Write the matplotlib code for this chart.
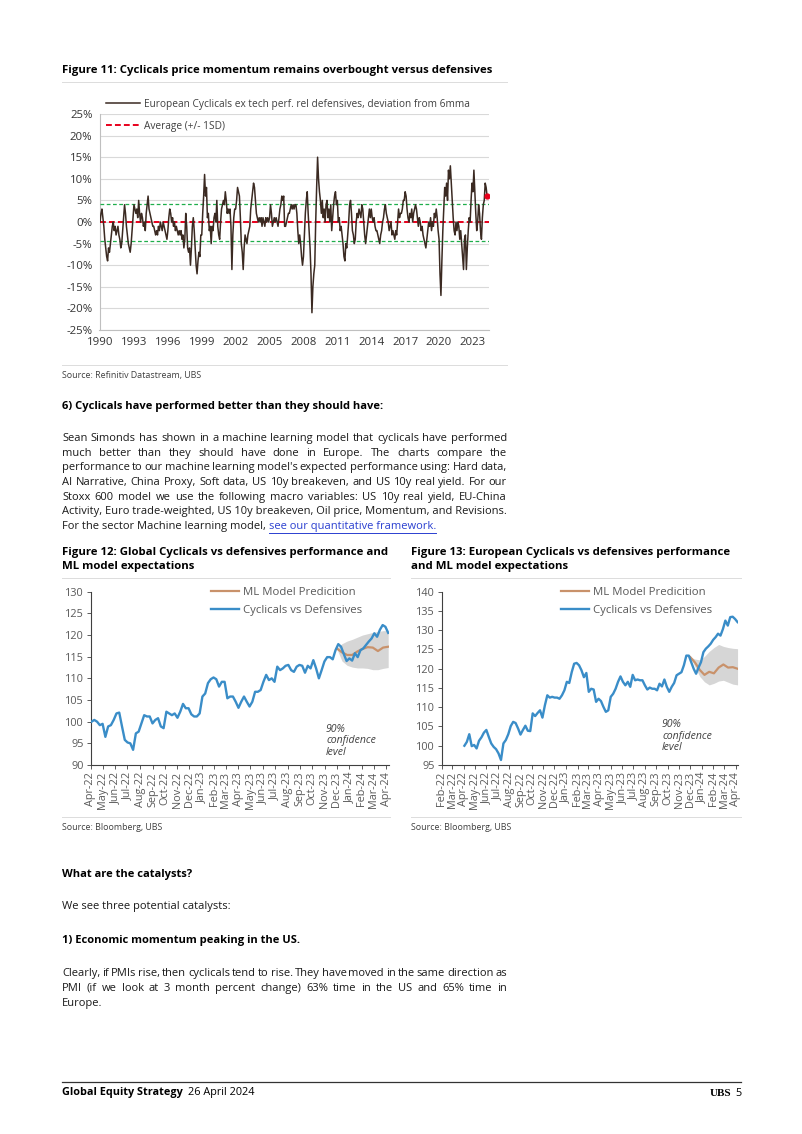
import numpy as np
import pandas as pd
import matplotlib
matplotlib.use("Agg")
import matplotlib.pyplot as plt
import matplotlib.dates as mdates
from matplotlib.lines import Line2D

W, H = 802, 1134
plt.rcParams['font.family'] = ['Open Sans', 'DejaVu Sans']

# ---- Figure 11: monthly deviation from 6mma (%), Jan 1990 - Apr 2024
momentum = [
    0, 2, 3, 1, -1, -4, -6, -8, -9, -6, -7, -5,          # 1990
    -3, -1, 0, -2, -1, -3, -2, -1, -3, -4, -6, -5,       # 1991
    -2, 1, 4, 2, -1, -3, -5, -6, -7, -5, -2, 1,          # 1992
    4, 3, 2, 3, 1, 5, 2, 0, 2, 1, -1, 0,                 # 1993
    -2, 2, 4, 6, 3, 2, 1, 0, -1, -1, -2, -3,             # 1994
    -2, -3, -1, -2, 0, -1, -2, 0, -1, -2, -3, -4,        # 1995
    -2, 1, 3, 2, 0, 1, -1, 0, -2, -1, -2, -3,            # 1996
    -2, -3, -2, -4, -3, -6, -4, 2, -1, -6, -7, -6,       # 1997
    -10, -6, -1, 1, -2, -6, -10, -12, -9, -7, -8, -3,    # 1998
    -3, 2, 6, 11, 6, 8, 1, 2, -2, -1, -5, -1,            # 1999
    -2, 1, 2, 0, 5, -1, -3, -4, 0, 3, 4, 5,              # 2000
    4, 7, 5, 2, 3, 2, 3, -1, -11, -3, 1, 3,              # 2001
    3, 5, 8, 7, 6, 1, -5, -7, -11, -6, -3, -4,           # 2002
    -5, -3, -2, -1, 3, 5, 7, 9, 8, 5, 2, 1,              # 2003
    0, 1, 0, 1, -1, 1, 0, -1, 1, 0, 1, 0,                # 2004
    1, 4, 2, -1, 0, 1, 0, 1, 0, -1, 1, 3,                # 2005
    4, 6, 5, 6, -1, -1, 0, 1, 2, 2, 3, 4,                # 2006
    3, 4, 3, 4, 4, 2, -2, -5, -3, -5, -8, -10,           # 2007
    -8, -3, 2, 5, 7, 2, -2, -6, -12, -21, -15, -12,      # 2008
    -10, 0, 8, 15, 10, 7, 5, 2, 5, 1, 3, 0,              # 2009
    4, 5, 1, 3, 0, 4, -2, 1, 4, 6, 7, 4,                 # 2010
    5, 0, 1, -2, -1, -3, -5, -8, -9, -5, -6, -3,         # 2011
    0, 4, 5, 2, -2, -3, -5, -4, 0, 2, 1, 3,              # 2012
    2, 1, 4, 3, 0, -3, -5, -3, -1, 1, 3, 1,              # 2013
    3, 1, 0, 1, -1, -2, -2, -3, -4, -5, -3, -2,          # 2014
    0, 1, 3, 4, 2, 1, 0, -2, -1, 0, -3, -2,              # 2015
    -3, -4, -2, -3, 0, 3, 1, 2, 2, 3, 5, 5,              # 2016
    7, 6, 3, 1, 0, 2, 1, 3, 0, 2, 3, 4,                  # 2017
    3, 1, -1, 1, 0, -2, -1, -3, -4, -5, -6, -4,          # 2018
    -2, 0, -1, 1, -2, 0, -1, 2, 1, 3, 1, -2,             # 2019
    -4, -12, -17, -9, -2, 3, 8, 6, 9, 5, 12, 10,         # 2020
    13, 9, 5, 1, -2, -3, 0, -2, 0, -1, -4, -2,           # 2021
    -5, -8, -11, -4, -3, -11, -6, -2, 1, 0, 5, 9,        # 2022
    7, 12, 7, 2, -2, 0, 4, 2, -2, -4, 1, 4,              # 2023
    5, 9, 8, 6,                                          # 2024
]
mom_avg = -0.1
mom_sd = 4.3
year_ticks = list(range(1990, 2024, 3))

# ---- Figure 12: Global cyclicals vs defensives (weekly, Apr-22 .. Apr-24)
glob_cyc = [100.0, 100.4, 100.0, 99.2, 99.5, 96.5, 98.9, 99.2, 100.4, 101.9, 102.1, 98.9,
            95.8, 95.2, 95.0, 93.5, 97.3, 97.7, 99.6, 101.5, 101.2, 101.2, 99.6, 100.4,
            100.8, 98.9, 98.5, 102.3, 101.9, 101.5, 101.9, 100.9, 102.3, 104.1, 103.1, 103.1,
            101.7, 101.2, 101.2, 101.9, 105.8, 106.5, 108.9, 109.8, 110.2, 109.8, 108.1, 109.2,
            109.2, 105.4, 105.8, 105.8, 104.6, 103.2, 104.6, 105.8, 104.6, 103.5, 104.6, 106.9,
            106.9, 107.3, 109.2, 110.8, 109.6, 110.0, 109.2, 112.7, 111.9, 112.3, 112.9, 113.1,
            111.9, 111.5, 112.7, 113.1, 112.9, 111.3, 112.9, 112.3, 114.2, 112.3, 110.0, 111.9,
            113.9, 114.9, 114.9, 114.4, 116.5, 117.9, 117.3, 115.6, 114.0, 114.6, 114.1, 115.8,
            114.9, 116.5, 116.9, 117.7, 118.5, 119.2, 120.4, 119.6, 121.2, 122.3, 121.9, 120.5]
glob_pred = [116.9, 116.0, 115.4, 115.4, 116.2, 116.8, 117.2, 117.1, 116.3, 117.1, 117.3]
glob_hi = [117.0, 118.0, 118.6, 119.0, 119.5, 120.0, 120.3, 120.6, 120.8, 121.0, 121.0]
glob_lo = [116.8, 114.0, 113.0, 112.6, 112.4, 112.4, 112.3, 112.0, 112.0, 112.3, 112.5]

# ---- Figure 13: European cyclicals vs defensives (weekly, Apr-22 .. Apr-24)
euro_cyc = [100.0, 101.0, 103.0, 99.9, 100.2, 99.3, 101.3, 102.2, 103.4, 104.1, 102.3, 100.6,
            99.7, 99.1, 98.0, 96.3, 100.6, 101.5, 103.0, 105.1, 106.2, 105.9, 104.5, 102.9,
            104.1, 105.2, 103.9, 103.8, 108.4, 107.7, 108.5, 109.2, 107.3, 110.5, 113.1, 112.5,
            112.7, 112.5, 112.5, 112.2, 113.1, 114.4, 116.6, 116.3, 119.1, 121.3, 121.5, 120.9,
            119.6, 117.8, 118.9, 114.0, 114.8, 114.6, 111.4, 112.2, 111.6, 110.1, 108.8, 109.2,
            112.7, 113.5, 114.8, 116.6, 118.0, 116.6, 115.7, 116.6, 115.3, 118.4, 117.0, 117.2,
            117.0, 117.0, 115.7, 114.6, 115.1, 114.8, 114.8, 114.4, 116.1, 115.4, 117.2, 115.3,
            114.0, 115.3, 116.3, 118.3, 118.7, 119.1, 120.9, 123.4, 123.4, 121.7, 120.0, 118.7,
            120.3, 121.7, 124.3, 125.2, 125.8, 126.5, 127.5, 128.2, 129.1, 128.6, 130.3, 132.5,
            131.2, 133.4, 133.5, 132.9, 132.1]
euro_pred = [123.0, 121.6, 119.7, 118.4, 119.2, 118.8, 120.3, 121.1, 120.3, 120.4, 120.0]
euro_hi = [123.0, 122.5, 122.3, 123.2, 124.5, 125.5, 126.3, 125.8, 125.5, 125.3, 125.2]
euro_lo = [123.0, 120.5, 118.0, 116.6, 115.8, 116.2, 116.8, 117.0, 116.5, 116.0, 115.8]

TXT = '#1a1a1a'
GRAYTXT = '#595959'
BLUE = '#3a8dc8'
TAN = '#c9926b'

fig = plt.figure(figsize=(W / 100, H / 100), dpi=100)
renderer = fig.canvas.get_renderer()


def fx(x):
    return x / W


def fy(y):
    return 1 - y / H


def axes_px(l, t, r, b):
    return fig.add_axes([fx(l), fy(b), (r - l) / W, (b - t) / H])


def hline(x0, x1, y, color='#dcdcdc', lw=0.7):
    fig.add_artist(Line2D([fx(x0), fx(x1)], [fy(y), fy(y)], color=color, lw=lw))


def put(x, y, s, **kw):
    kw.setdefault('color', TXT)
    return fig.text(fx(x), fy(y), s, va='center', **kw)


def justify(lines, y0, step, size, x0=62, x1=507):
    # spread the words of every line but the last over the full column width
    for i, line in enumerate(lines):
        y = y0 + i * step
        if i == len(lines) - 1:
            put(x0, y, line, size=size)
            continue
        words = line.split(' ')
        arts = [put(x0, y, w, size=size) for w in words]
        widths = [a.get_window_extent(renderer).width for a in arts]
        gap = (x1 - x0 - sum(widths)) / (len(words) - 1)
        x = x0
        for a, w in zip(arts, widths):
            a.set_x(fx(x))
            x += w + gap


TITLE = 8.2
BODY = 8.0
SRC = 6.4

# ---------------- Figure 11 ----------------
put(62, 70, "Figure 11: Cyclicals price momentum remains overbought versus defensives",
    size=TITLE, weight='bold', color='black')
hline(62, 507, 81.5)
hline(62, 507, 364.5)
put(62, 375.5, "Source: Refinitiv Datastream, UBS", size=SRC, color='#404040')

ax1 = axes_px(99.5, 114, 489, 330)
yrs = 1990 + np.arange(len(momentum)) / 12
ax1.plot(yrs, momentum, color='#3b2a22', lw=1.1, zorder=4,
         label="European Cyclicals ex tech perf. rel defensives, deviation from 6mma")
ax1.axhline(mom_avg, color='#e8001c', lw=1.4, ls=(0, (3, 1.6)), zorder=3,
            label="Average (+/- 1SD)")
for v in (mom_avg + mom_sd, mom_avg - mom_sd):
    ax1.axhline(v, color='#1fae4b', lw=0.9, ls=(0, (3, 2)), zorder=3)
ax1.plot(yrs[-1], momentum[-1], 'o', color='#e8001c', ms=3.5, zorder=5)
ax1.set_ylim(-25, 25)
ax1.set_yticks(range(-25, 26, 5))
ax1.yaxis.set_major_formatter(lambda v, p: f"{v:.0f}%")
ax1.set_xlim(1989.95, 2024.42)
ax1.set_xticks(year_ticks)
ax1.grid(axis='y', color='#d9d9d9', lw=0.8)
ax1.set_axisbelow(True)
for s in ('top', 'right'):
    ax1.spines[s].set_visible(False)
for s in ('left', 'bottom'):
    ax1.spines[s].set_color('#bfbfbf')
    ax1.spines[s].set_linewidth(0.8)
ax1.tick_params(length=0, labelsize=8.2, colors='#333333')
ax1.tick_params(axis='y', pad=5)
ax1.tick_params(axis='x', pad=5)
ax1.legend(loc='upper left', bbox_to_anchor=(fx(106), fy(99)), bbox_transform=fig.transFigure,
           frameon=False, fontsize=7.3, handlelength=3.4, handletextpad=0.35,
           labelspacing=1.05, borderpad=0, borderaxespad=0, labelcolor='#404040')

# ---------------- Text block ----------------
put(62, 406.5, "6) Cyclicals have performed better than they should have:",
    size=BODY, weight='bold', color='black')
para1 = [
    "Sean Simonds has shown in a machine learning model that cyclicals have performed",
    "much better than they should have done in Europe. The charts compare the",
    "performance to our machine learning model's expected performance using: Hard data,",
    "AI Narrative, China Proxy, Soft data, US 10y breakeven, and US 10y real yield. For our",
    "Stoxx 600 model we use the following macro variables: US 10y real yield, EU-China",
    "Activity, Euro trade-weighted, US 10y breakeven, Oil price, Momentum, and Revisions.",
]
justify(para1, 438.5, 14.65, BODY)
lead = put(62, 526.5, "For the sector Machine learning model, ", size=BODY)
lw_ = lead.get_window_extent(renderer).width
link = put(62 + lw_, 526.5, "see our quantitative framework.", size=BODY, color='#2a3fd0')
bb = link.get_window_extent(renderer)
fig.add_artist(Line2D([fx(bb.x0), fx(bb.x1)], [fy(532.5), fy(532.5)], color='#2a3fd0', lw=0.7))

# ---------------- Figures 12 & 13 ----------------
put(62, 552, "Figure 12: Global Cyclicals vs defensives performance and",
    size=TITLE, weight='bold', color='black')
put(62, 567, "ML model expectations", size=TITLE, weight='bold', color='black')
put(411, 552, "Figure 13: European Cyclicals vs defensives performance",
    size=TITLE, weight='bold', color='black')
put(411, 567, "and ML model expectations", size=TITLE, weight='bold', color='black')
hline(62, 390, 578)
hline(411, 741, 578)
hline(62, 390, 817)
hline(411, 741, 817)
put(62, 828, "Source: Bloomberg, UBS", size=SRC, color='#404040')
put(411, 828, "Source: Bloomberg, UBS", size=SRC, color='#404040')

end_date = "2024-04-06"
panels = [
    (axes_px(90.7, 591.7, 389, 765), glob_cyc, glob_pred, glob_lo, glob_hi,
     (90, 130), "2022-04-01", 211, (326, 741)),
    (axes_px(441.7, 591.7, 738.3, 765), euro_cyc, euro_pred, euro_lo, euro_hi,
     (95, 140), "2022-02-01", 561, (662, 736)),
]
for ax, cyc, pred, lo, hi, ylim, first_tick, leg_x, conf_xy in panels:
    d = pd.date_range("2022-04-03", end_date, periods=len(cyc))
    dp = pd.date_range("2023-12-01", end_date, periods=len(pred))
    ax.fill_between(dp, lo, hi, color='#d6d6d6', lw=0, zorder=1)
    ax.plot(dp, pred, color=TAN, lw=1.6, zorder=2, label="ML Model Predicition")
    ax.plot(d, cyc, color=BLUE, lw=1.7, zorder=3, label="Cyclicals vs Defensives")
    ax.set_ylim(*ylim)
    ax.set_yticks(range(ylim[0], ylim[1] + 1, 5))
    ax.set_xlim(pd.Timestamp(first_tick), pd.Timestamp("2024-04-08"))
    ax.set_xticks(pd.date_range(first_tick, "2024-04-01", freq="MS"))
    ax.xaxis.set_major_formatter(mdates.DateFormatter("%b-%y"))
    for s in ('top', 'right'):
        ax.spines[s].set_visible(False)
    for s in ('left', 'bottom'):
        ax.spines[s].set_color('#404040')
        ax.spines[s].set_linewidth(0.8)
    ax.tick_params(direction='out', length=3, width=0.6, color='#404040',
                   labelsize=7.8, labelcolor=GRAYTXT, pad=2)
    ax.tick_params(axis='x', labelrotation=90)
    ax.legend(loc='upper left', bbox_to_anchor=(fx(leg_x), fy(587)),
              bbox_transform=fig.transFigure, frameon=False, fontsize=8.2,
              handlelength=2.5, handletextpad=0.3, labelspacing=0.6,
              borderpad=0, borderaxespad=0, labelcolor=GRAYTXT)
    put(conf_xy[0], conf_xy[1], "90%\nconfidence\nlevel", size=7.6, style='italic',
        color='#404040', linespacing=1.1)

# ---------------- Text block 2 ----------------
put(62, 875, "What are the catalysts?", size=BODY, weight='bold', color='black')
put(62, 906.5, "We see three potential catalysts:", size=BODY)
put(62, 940, "1) Economic momentum peaking in the US.", size=BODY, weight='bold', color='black')
para2 = [
    "Clearly, if PMIs rise, then cyclicals tend to rise. They have moved in the same direction as",
    "PMI (if we look at 3 month percent change) 63% time in the US and 65% time in",
    "Europe.",
]
justify(para2, 973.3, 15, BODY)

# ---------------- Footer ----------------
hline(62, 741, 1082, color='#333333', lw=0.9)
g = put(62, 1093, "Global Equity Strategy", size=7.8, weight='bold', color='black')
gw = g.get_window_extent(renderer).width
put(62 + gw + 5, 1093, "26 April 2024", size=7.8, color='black')
put(741, 1093, "5", size=7.8, color='black', ha='right')
put(731, 1093, "UBS", size=8, color='black', ha='right', weight='bold',
    family=['Liberation Serif', 'DejaVu Serif'])

fig.savefig("out.png", dpi=100)
